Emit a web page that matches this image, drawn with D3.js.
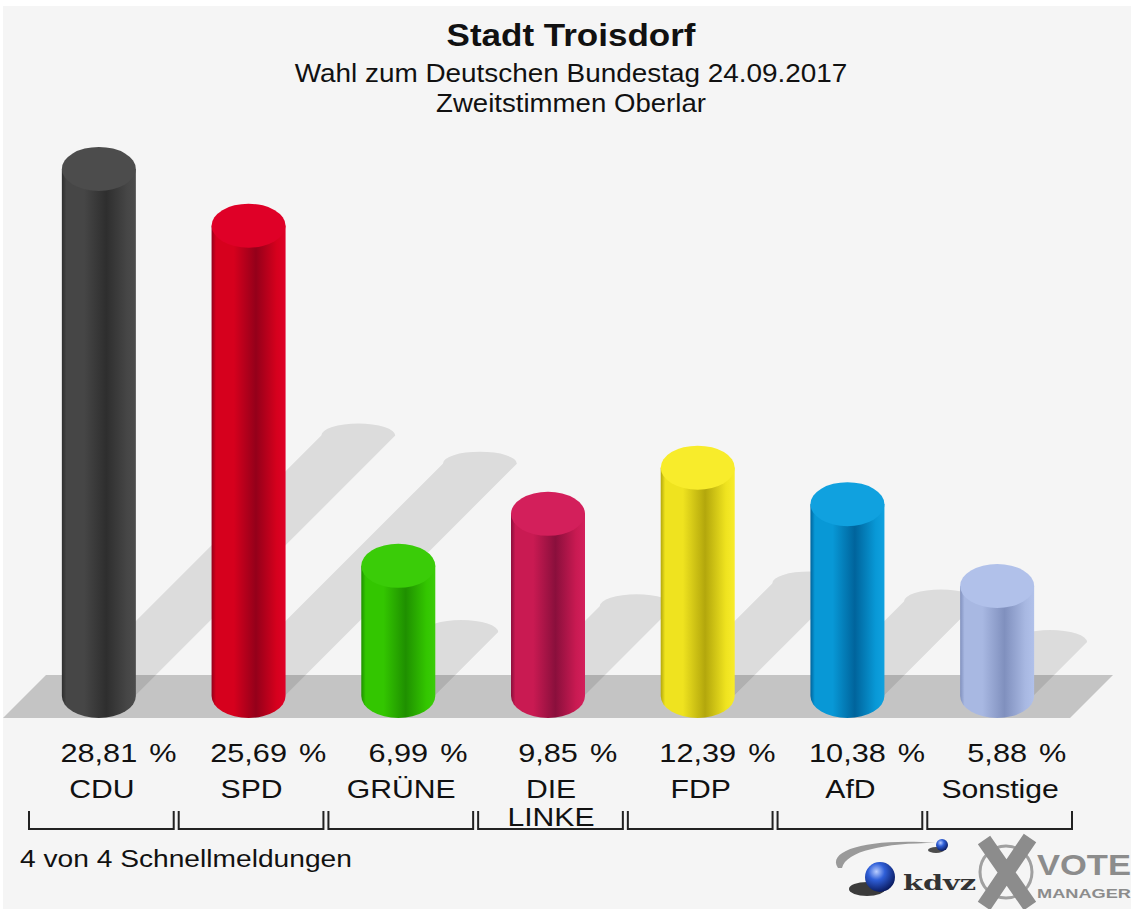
<!DOCTYPE html>
<html>
<head>
<meta charset="utf-8">
<script src="https://cdn.jsdelivr.net/npm/d3@7"></script>
<style>
  body { margin: 0; background: #fff; }
  text { font-family: "Liberation Sans", Arial, sans-serif; fill: #111; }
</style>
</head>
<body>
<div class="container"></div>
<script>
const WIDTH = 1131;
const HEIGHT = 909;

// data
var parties = ['CDU', 'SPD', 'GRÜNE', 'DIE LINKE', 'FDP', 'AfD', 'Sonstige'];
var shares = [28.81, 25.69, 6.99, 9.85, 12.39, 10.38, 5.88];
var baseColors = ['#464646', '#d6001d', '#33c600', '#c91a52', '#efe31f', '#0898d6', '#a8b8e2'];
var darkColors = ['#2e2e2e', '#94001a', '#1f9000', '#8a0f3c', '#b3a70c', '#00649c', '#8090be'];
var topColors = ['#4c4c4c', '#df0027', '#3acc08', '#d31f5b', '#f8ec2b', '#10a1df', '#b1c1ea'];
var titleLines = ['Stadt Troisdorf', 'Wahl zum Deutschen Bundestag 24.09.2017', 'Zweitstimmen Oberlar'];
var footerText = '4 von 4 Schnellmeldungen';

const FLOOR_TOP = 675, FLOOR_BOTTOM = 718;
const RX = 37, RY = 22;
const BOTTOM_CY = 696;
const SHADOW_Y0 = 695;

var fmt = d3.formatLocale({decimal: ',', thousands: '.', grouping: [3], currency: ['', '€']}).format('.2f');

var translate = function(x, y) {
    return `translate(${x},${y})`;
};

// text that is scaled horizontally, the chart font is wider than Liberation Sans
var addText = function(parent, str, x, y, size, weight, anchor, stretch) {
    var g = parent.append('g');
    var t = g.append('text')
        .attr('font-size', size)
        .attr('font-weight', weight)
        .attr('text-anchor', anchor)
        .text(str);
    var k = stretch;
    if (typeof stretch === 'object') k = stretch.width / t.node().getComputedTextLength();
    g.attr('transform', translate(x, y) + ` scale(${k},1)`);
    return t;
};

var svg = d3.select('.container').append('svg')
    .attr('width', WIDTH)
    .attr('height', HEIGHT);

var defs = svg.append('defs');

svg.append('rect')
    .attr('x', 3).attr('y', 6)
    .attr('width', WIDTH - 3).attr('height', HEIGHT - 6)
    .attr('fill', '#f5f5f5');

var xScale = d3.scaleBand()
    .domain(parties)
    .range([24, 1072]);

var yScale = d3.scaleLinear()
    .domain([0, 30])
    .range([671, 671 - 30 * 18.19]);

var cx = (d) => xScale(d) + xScale.bandwidth() / 2;

// title
addText(svg, titleLines[0], 571, 46, 32, 'bold', 'middle', {width: 249});
addText(svg, titleLines[1], 571, 82, 25, 'normal', 'middle', {width: 553});
addText(svg, titleLines[2], 571, 112, 25, 'normal', 'middle', {width: 270});

// floor
var fx0 = xScale.range()[0] - 21, fx1 = xScale.range()[1] - 2;
var slant = FLOOR_BOTTOM - FLOOR_TOP;
svg.append('path')
    .attr('d', `M${fx0},${FLOOR_BOTTOM} L${fx0 + slant},${FLOOR_TOP} L${fx1 + slant},${FLOOR_TOP} L${fx1},${FLOOR_BOTTOM} Z`)
    .attr('fill', '#c4c4c4');

var rows = parties.map((p, i) => ({party: p, value: shares[i], i: i}));

// shadows falling back at 45 degrees
svg.append('g').selectAll('path').data(rows).enter()
    .append('path')
    .attr('fill', 'rgba(0,0,0,0.1)')
    .attr('d', function(d) {
        var c = cx(d.party);
        var L = 0.495 * (yScale(0) - yScale(d.value));
        return `M${c - RX},${SHADOW_Y0} L${c - RX + L},${SHADOW_Y0 - L} ` +
            `A${RX},12 0 0 1 ${c + RX + L},${SHADOW_Y0 - L} L${c + RX},${SHADOW_Y0} Z`;
    });

// cylinders
rows.forEach(function(d) {
    var grad = defs.append('linearGradient')
        .attr('id', 'cyl' + d.i)
        .attr('x1', 0).attr('x2', 1).attr('y1', 0).attr('y2', 0);
    grad.append('stop').attr('offset', '0%').attr('stop-color', darkColors[d.i]);
    grad.append('stop').attr('offset', '6%').attr('stop-color', baseColors[d.i]);
    grad.append('stop').attr('offset', '30%').attr('stop-color', baseColors[d.i]);
    grad.append('stop').attr('offset', '60%').attr('stop-color', darkColors[d.i]);
    grad.append('stop').attr('offset', '88%').attr('stop-color', baseColors[d.i]);
    grad.append('stop').attr('offset', '100%').attr('stop-color', topColors[d.i]);
});

var bars = svg.append('g').selectAll('g').data(rows).enter().append('g');

bars.append('path')
    .attr('fill', (d) => `url(#cyl${d.i})`)
    .attr('d', function(d) {
        var c = cx(d.party);
        var top = yScale(d.value) + RY;
        return `M${c - RX},${top} L${c - RX},${BOTTOM_CY} A${RX},${RY} 0 0 0 ${c + RX},${BOTTOM_CY} L${c + RX},${top} Z`;
    });

bars.append('ellipse')
    .attr('cx', (d) => cx(d.party))
    .attr('cy', (d) => yScale(d.value) + RY)
    .attr('rx', RX)
    .attr('ry', RY)
    .attr('fill', (d) => topColors[d.i]);

// value labels: the number is centred under the bar, the % follows
rows.forEach(function(d) {
    var num = fmt(d.value);
    var g = svg.append('g').attr('transform', translate(cx(d.party), 762) + ' scale(1.18,1)');
    var t = g.append('text').attr('font-size', 26);
    t.append('tspan').text(num);
    t.append('tspan').attr('dx', 3).text(' %');
    var numW = t.node().getSubStringLength(0, num.length);
    t.attr('x', -numW / 2);
});

// party names
rows.forEach(function(d) {
    d.party.split(' ').forEach(function(line, j) {
        addText(svg, line, cx(d.party) + 3, 798 + j * 28, 26, 'normal', 'middle', 1.16);
    });
});

// brackets under every party
svg.append('g').selectAll('path').data(parties).enter()
    .append('path')
    .attr('fill', 'none')
    .attr('stroke', '#222')
    .attr('stroke-width', 2)
    .attr('d', function(p) {
        var x0 = xScale(p) + 5, x1 = xScale(p) + xScale.bandwidth();
        return `M${x0},811 V829 H${x1} V811`;
    });

addText(svg, footerText, 20, 867, 24, 'normal', 'start', {width: 332});

// logo
var logo = svg.append('g');
var sph = defs.append('radialGradient').attr('id', 'sphere')
    .attr('cx', '38%').attr('cy', '32%').attr('r', '70%');
sph.append('stop').attr('offset', '0%').attr('stop-color', '#b9cdff');
sph.append('stop').attr('offset', '40%').attr('stop-color', '#2f5fd8');
sph.append('stop').attr('offset', '100%').attr('stop-color', '#0a1a5e');

logo.append('path')
    .attr('d', 'M838,868 C826,850 870,838 936,843 C884,843 846,851 842,868 Z')
    .attr('fill', '#9a9a9a');
logo.append('ellipse')
    .attr('cx', 867).attr('cy', 889).attr('rx', 18).attr('ry', 7)
    .attr('fill', '#1a1a1a').attr('opacity', 0.85);
logo.append('circle')
    .attr('cx', 880).attr('cy', 877).attr('r', 15)
    .attr('fill', 'url(#sphere)');
logo.append('ellipse')
    .attr('cx', 936).attr('cy', 850).attr('rx', 8).attr('ry', 3)
    .attr('fill', '#222').attr('opacity', 0.8);
logo.append('circle')
    .attr('cx', 942).attr('cy', 845).attr('r', 6)
    .attr('fill', 'url(#sphere)');
addText(logo, 'kdvz', 903, 890, 20, 'bold', 'start', {width: 64})
    .style('font-family', '"DejaVu Serif", serif')
    .style('fill', '#333');

logo.append('circle')
    .attr('cx', 1006).attr('cy', 872).attr('r', 26)
    .attr('fill', 'none').attr('stroke', '#a0a0a0').attr('stroke-width', 3);
logo.append('path')
    .attr('d', 'M984,840 L1030,906 M1030,838 L984,906')
    .attr('stroke', '#8c8c8c').attr('stroke-width', 15);
addText(logo, 'VOTE', 1037, 875, 30, 'bold', 'start', {width: 94}).style('fill', '#8c8c8c');
addText(logo, 'MANAGER', 1037, 898, 13, 'bold', 'start', {width: 94}).style('fill', '#8c8c8c');
</script>
</body>
</html>
